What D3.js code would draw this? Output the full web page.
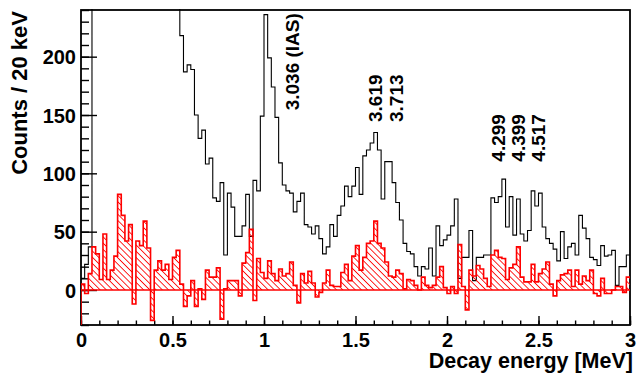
<!DOCTYPE html>
<html>
<head>
<meta charset="utf-8">
<script src="https://cdn.jsdelivr.net/npm/d3@7"></script>
<style>
  html, body { margin: 0; padding: 0; background: #fff; }
  svg { display: block; font-family: "Liberation Sans", Arial, Helvetica, sans-serif; font-weight: bold; }
</style>
</head>
<body>
<svg id="chart" width="637" height="373"></svg>
<script>
// ---- data -------------------------------------------------------------
const binWidth = 0.02;                 // MeV (20 keV bins)
const energyRange = [0, 3];            // MeV
const countRange = [-30, 240];         // counts / 20 keV

const yTickValues = [0, 50, 100, 150, 200];
const yTickLabels = ["0", "50", "100", "150", "200"];
const xTickValues = [0, 0.5, 1, 1.5, 2, 2.5, 3];
const xTickLabels = ["0", "0.5", "1", "1.5", "2", "2.5", "3"];

// All decay events (black). Bins 3..26 lie above the plotted range and are clipped.
const totalCounts = [
   10,  22,  37, 260, 290, 320, 340, 350, 355, 350,
  345, 340, 330, 320, 315, 310, 300, 295, 290, 285,
  280, 275, 270, 262, 255, 250, 245, 218, 187, 193,
  189, 150, 130, 137, 108, 113,  79,  76,  92,  30,
   83,  71,  46,  46,  55,  82,  46,  94,  85, 149,
  236, 199, 174, 148, 109,  90,  85,  83,  67,  76,
   83,  56,  54,  48,  55,  44,  31,  37,  56,  46,
   64,  72,  89,  80,  89, 105,  82, 115, 120, 126,
  135, 120,  78, 110, 110,  92,  75,  60,  40,  33,
   31,  20,  12,  20,  18,  36,  12,  55,  38,  43,
   47,  55,  78,  10,  28,  28,  51,   8,  28,  28,
   30,  30,  79,  75,  80,  95,  54,  80,  47,  78,
   48,  42,  51,  85,  72,  83,  54,  44,  40,  35,
   25,  50,  27,  37,  40,  30,  64,  53,  44,  28,
   26,  21,  38,  29,  30,  34,   4,  20,  20,  30
];

// Background-subtracted spectrum (red, hatched).
const subtractedCounts = [
    5,  -3,  14,  37,  31,   9,  48,   9,  17,  29,
   82,  64,  42,  56, -12,  42,  38,  59,  36, -26,
   17,  25,  17,  22,   9,  28,  34,   5, -14,  -5,
    8, -14,   1,  -8,  17,  11,  11,  19, -25,   1,
    8,   8,   8,  -5,  23,  32,  52,  -9,  27,  15,
   10,  25,  14,   8,  18,  12,  14,  24,   4, -11,
   14,   6,  16,   6,  -6,  -2,   6,  17,   4,   3,
    3,  15,  22,   8,  29,  38,  17,  28,  40,  42,
   59,  40,  36,  24,  12,  11,  17,  14,   1,   9,
    8,   4,   0,  11,   4,   2,   4,  11,  20,   2,
   -3,   3,  -3,  39,   3, -17,  17,  12,  21,  18,
   10,   3,  30,  34,  28,  27,   9,  19,  22,  37,
   11,   7,   7,  22,   7,  14,  18,  24,   5,  -5,
    8,  13,  14,  17,   3,  17,   5,  12,   8,  17,
   -3,  -5,  10,  -3,  -3,   0,   3,   3,  -2,  11
];

// Excitation energies (MeV) of the levels marked above the peaks.
const levelLabels = ["3.036 (IAS)", "3.619", "3.713", "4.299", "4.399", "4.517"];

const xTitle = "Decay energy [MeV]";
const yTitle = "Counts / 20 keV";

// ---- layout -----------------------------------------------------------
const frame = { left: 81, right: 630, top: 10, bottom: 325 };
// where each level label starts (decay energy, counts), text runs upward
const labelAnchors = [[1.19, 154], [1.643, 144], [1.758, 144], [2.315, 110], [2.424, 110], [2.538, 110]];

const svg = d3.select("#chart");

const x = d3.scaleLinear().domain(energyRange).range([frame.left, frame.right]);
const y = d3.scaleLinear().domain(countRange).range([frame.bottom, frame.top]);

const defs = svg.append("defs");
defs.append("clipPath").attr("id", "frameClip")
  .append("rect")
  .attr("x", frame.left).attr("y", frame.top - 1)
  .attr("width", frame.right - frame.left).attr("height", frame.bottom - frame.top + 1);

// "\\\\" hatching used for the red histogram
defs.append("pattern")
  .attr("id", "hatch")
  .attr("patternUnits", "userSpaceOnUse")
  .attr("width", 4.4).attr("height", 4.4)
  .attr("patternTransform", "rotate(-45)")
  .append("line")
  .attr("x1", 2.2).attr("y1", -1).attr("x2", 2.2).attr("y2", 5.4)
  .attr("stroke", "#ff0000").attr("stroke-width", 0.85);

// bin edges
const edges = d3.range(totalCounts.length + 1).map(i => energyRange[0] + i * binWidth);

function stepPoints(values) {
  const pts = values.map((v, i) => [edges[i], v]);
  pts.push([edges[values.length], values[values.length - 1]]);
  return pts;
}

const stepLine = d3.line()
  .x(d => x(d[0])).y(d => y(d[1]))
  .curve(d3.curveStepAfter);

const stepArea = d3.area()
  .x(d => x(d[0])).y0(y(0)).y1(d => y(d[1]))
  .curve(d3.curveStepAfter);

// ---- frame and axes ---------------------------------------------------
svg.append("rect")
  .attr("x", frame.left).attr("y", frame.top)
  .attr("width", frame.right - frame.left).attr("height", frame.bottom - frame.top)
  .attr("fill", "none").attr("stroke", "#000").attr("stroke-width", 1.8);

const yMinor = d3.range(countRange[0], countRange[1] + 1, 10);
const xMinor = d3.range(0, 31).map(i => i / 10);

const yAxisMinor = svg.append("g")
  .attr("transform", `translate(${frame.left},0)`)
  .call(d3.axisLeft(y).tickValues(yMinor).tickSize(-8).tickFormat(""));
const yAxis = svg.append("g")
  .attr("transform", `translate(${frame.left},0)`)
  .call(d3.axisLeft(y).tickValues(yTickValues).tickSize(-16).tickPadding(5)
    .tickFormat((d, i) => yTickLabels[i]));

const xAxisMinor = svg.append("g")
  .attr("transform", `translate(0,${frame.bottom})`)
  .call(d3.axisBottom(x).tickValues(xMinor).tickSize(-4.5).tickFormat(""));
const xAxis = svg.append("g")
  .attr("transform", `translate(0,${frame.bottom})`)
  .call(d3.axisBottom(x).tickValues(xTickValues).tickSize(-9).tickPadding(8)
    .tickFormat((d, i) => xTickLabels[i]));

[yAxisMinor, yAxis, xAxisMinor, xAxis].forEach(g => {
  g.select(".domain").remove();
  g.selectAll(".tick line").attr("stroke", "#000").attr("stroke-width", 1.4);
  g.attr("font-family", null).attr("font-size", null);
  g.selectAll("text")
    .attr("fill", "#000")
    .style("font-family", '"Liberation Sans", Arial, sans-serif')
    .style("font-weight", "bold")
    .style("font-size", "20px");
});
yAxis.selectAll("text").attr("dy", "0.36em");

// ---- histograms -------------------------------------------------------
const plot = svg.append("g").attr("clip-path", "url(#frameClip)");

// total spectrum
plot.append("path")
  .attr("d", stepLine(stepPoints(totalCounts)))
  .attr("fill", "none")
  .attr("stroke", "#000")
  .attr("stroke-width", 1.1);

// background-subtracted spectrum: hatched fill between zero and the content
const redPts = stepPoints(subtractedCounts);
plot.append("path")
  .attr("d", stepArea(redPts))
  .attr("fill", "url(#hatch)")
  .attr("stroke", "none");

plot.append("line")
  .attr("x1", frame.left).attr("x2", frame.right)
  .attr("y1", y(0)).attr("y2", y(0))
  .attr("stroke", "#ff0000").attr("stroke-width", 1.6);

plot.append("path")
  .attr("d", stepLine([[edges[0], countRange[0]]].concat(redPts)))
  .attr("fill", "none")
  .attr("stroke", "#ff0000")
  .attr("stroke-width", 1.6);

// ---- level labels -----------------------------------------------------
svg.append("g")
  .selectAll("text")
  .data(levelLabels)
  .join("text")
  .attr("transform", (d, i) => `translate(${x(labelAnchors[i][0])},${y(labelAnchors[i][1])}) rotate(-90)`)
  .attr("text-anchor", "start")
  .attr("font-size", 19)
  .attr("fill", "#000")
  .text(d => d);

// ---- axis titles ------------------------------------------------------
svg.append("text")
  .attr("x", 633).attr("y", 368)
  .attr("text-anchor", "end")
  .attr("font-size", 21.5)
  .attr("fill", "#000")
  .text(xTitle);

svg.append("text")
  .attr("transform", "translate(27,11) rotate(-90)")
  .attr("text-anchor", "end")
  .attr("font-size", 22)
  .attr("fill", "#000")
  .text(yTitle);
</script>
</body>
</html>
